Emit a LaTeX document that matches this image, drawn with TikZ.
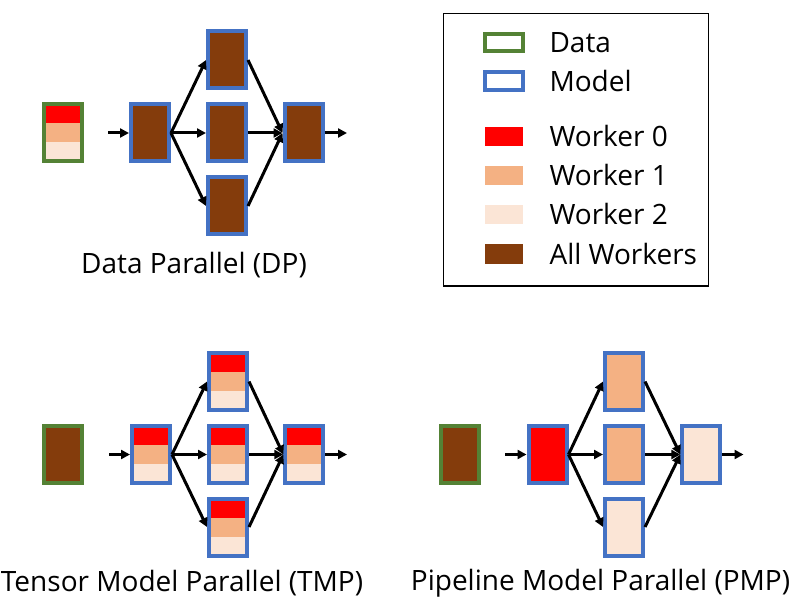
\documentclass[tikz,border=0pt]{standalone}
\usepackage{fontspec}
\setmainfont{Open Sans}
\usetikzlibrary{arrows.meta}
\definecolor{dgreen}{HTML}{548235}
\definecolor{mblue}{HTML}{4472C4}
\definecolor{wzero}{HTML}{FF0000}
\definecolor{wone}{HTML}{F4B183}
\definecolor{wtwo}{HTML}{FBE5D6}
\definecolor{wall}{HTML}{843C0C}
\tikzset{
  blk/.style={rectangle, minimum width=38pt, minimum height=57pt, inner sep=0pt, line width=4pt},
  databox/.style={blk, draw=dgreen},
  modelbox/.style={blk, draw=mblue},
  allfill/.style={fill=wall},
  tri/.style={path picture={
    \fill[wzero] (path picture bounding box.north west) rectangle ([yshift=-19pt]path picture bounding box.north east);
    \fill[wone] ([yshift=-19pt]path picture bounding box.north west) rectangle ([yshift=19pt]path picture bounding box.south east);
    \fill[wtwo] ([yshift=19pt]path picture bounding box.south west) rectangle (path picture bounding box.south east);
  }},
  arr/.style={line width=3pt, -{Triangle[length=9pt,width=9pt]}},
  captext/.style={font=\fontsize{28}{32}\selectfont, anchor=center},
  legtext/.style={font=\fontsize{28}{32}\selectfont, anchor=west},
}
\begin{document}
\begin{tikzpicture}[x=1pt,y=-1pt]
\useasboundingbox (0,0) rectangle (789,612);

% ---------- Data Parallel ----------
\node[databox, tri] (dpd) at (62.5,133) {};
\coordinate (dpin) at (108,133);
\node[modelbox, allfill] (dp1) at (150,133) {};
\node[modelbox, allfill] (dpt) at (227,60) {};
\node[modelbox, allfill] (dpm) at (227,133) {};
\node[modelbox, allfill] (dpb) at (227,206) {};
\node[modelbox, allfill] (dpr) at (303.5,133) {};
\coordinate (dpout) at (347,133);
\draw[arr] (dpin) -- (dp1.west);
\draw[arr] (dp1.east) -- (dpt.west);
\draw[arr] (dp1.east) -- (dpm.west);
\draw[arr] (dp1.east) -- (dpb.west);
\draw[arr] (dpt.east) -- (dpr.west);
\draw[arr] (dpm.east) -- (dpr.west);
\draw[arr] (dpb.east) -- (dpr.west);
\draw[arr] (dpr.east) -- (dpout);
\node[captext] (dplab) at (194,265) {Data Parallel (DP)};

% ---------- Tensor Model Parallel ----------
\node[databox, allfill] (tmd) at (63.3,454.5) {};
\coordinate (tmin) at (109,454.5);
\node[modelbox, tri] (tm1) at (151,454.5) {};
\node[modelbox, tri] (tmt) at (228,381.5) {};
\node[modelbox, tri] (tmm) at (228,454.5) {};
\node[modelbox, tri] (tmb) at (228,527) {};
\node[modelbox, tri] (tmr) at (304.3,454.5) {};
\coordinate (tmout) at (347,454.5);
\draw[arr] (tmin) -- (tm1.west);
\draw[arr] (tm1.east) -- (tmt.west);
\draw[arr] (tm1.east) -- (tmm.west);
\draw[arr] (tm1.east) -- (tmb.west);
\draw[arr] (tmt.east) -- (tmr.west);
\draw[arr] (tmm.east) -- (tmr.west);
\draw[arr] (tmb.east) -- (tmr.west);
\draw[arr] (tmr.east) -- (tmout);
\node[captext] (tmlab) at (182,583) {Tensor Model Parallel (TMP)};

% ---------- Pipeline Model Parallel ----------
\node[databox, allfill] (pmd) at (460,454.5) {};
\coordinate (pmin) at (505,454.5);
\node[modelbox, fill=wzero] (pm1) at (547.5,454.5) {};
\node[modelbox, fill=wone] (pmt) at (624,381.5) {};
\node[modelbox, fill=wone] (pmm) at (624,454.5) {};
\node[modelbox, fill=wtwo] (pmb) at (624,527) {};
\node[modelbox, fill=wtwo] (pmr) at (701.3,454.5) {};
\coordinate (pmout) at (743.5,454.5);
\draw[arr] (pmin) -- (pm1.west);
\draw[arr] (pm1.east) -- (pmt.west);
\draw[arr] (pm1.east) -- (pmm.west);
\draw[arr] (pm1.east) -- (pmb.west);
\draw[arr] (pmt.east) -- (pmr.west);
\draw[arr] (pmm.east) -- (pmr.west);
\draw[arr] (pmb.east) -- (pmr.west);
\draw[arr] (pmr.east) -- (pmout);
\node[captext] (pmlab) at (600.5,583) {Pipeline Model Parallel (PMP)};

% ---------- Legend ----------
\node[draw=black, line width=1.5pt, minimum width=265pt, minimum height=272.5pt, inner sep=0pt] (leg) at (575.8,149.6) {};
\node[rectangle, draw=dgreen, line width=4pt, minimum width=37.5pt, minimum height=17.5pt, inner sep=0pt] (lgd) at (504.2,42.5) {};
\node[rectangle, draw=mblue, line width=4pt, minimum width=37.5pt, minimum height=17.5pt, inner sep=0pt] (lgm) at (504.2,81) {};
\node[rectangle, fill=wzero, minimum width=38pt, minimum height=19.5pt, inner sep=0pt] (lg0) at (504.2,136.3) {};
\node[rectangle, fill=wone, minimum width=38pt, minimum height=19.5pt, inner sep=0pt] (lg1) at (504.2,175.3) {};
\node[rectangle, fill=wtwo, minimum width=38pt, minimum height=19.5pt, inner sep=0pt] (lg2) at (504.2,214.5) {};
\node[rectangle, fill=wall, minimum width=38pt, minimum height=19.5pt, inner sep=0pt] (lga) at (504.2,253.8) {};
\node[legtext] (tgd) at (546,42.5) {Data};
\node[legtext] (tgm) at (546,81) {Model};
\node[legtext] (tg0) at (546,136.3) {Worker 0};
\node[legtext] (tg1) at (546,175.3) {Worker 1};
\node[legtext] (tg2) at (546,214.5) {Worker 2};
\node[legtext] (tga) at (546,253.8) {All Workers};
\end{tikzpicture}
\end{document}
